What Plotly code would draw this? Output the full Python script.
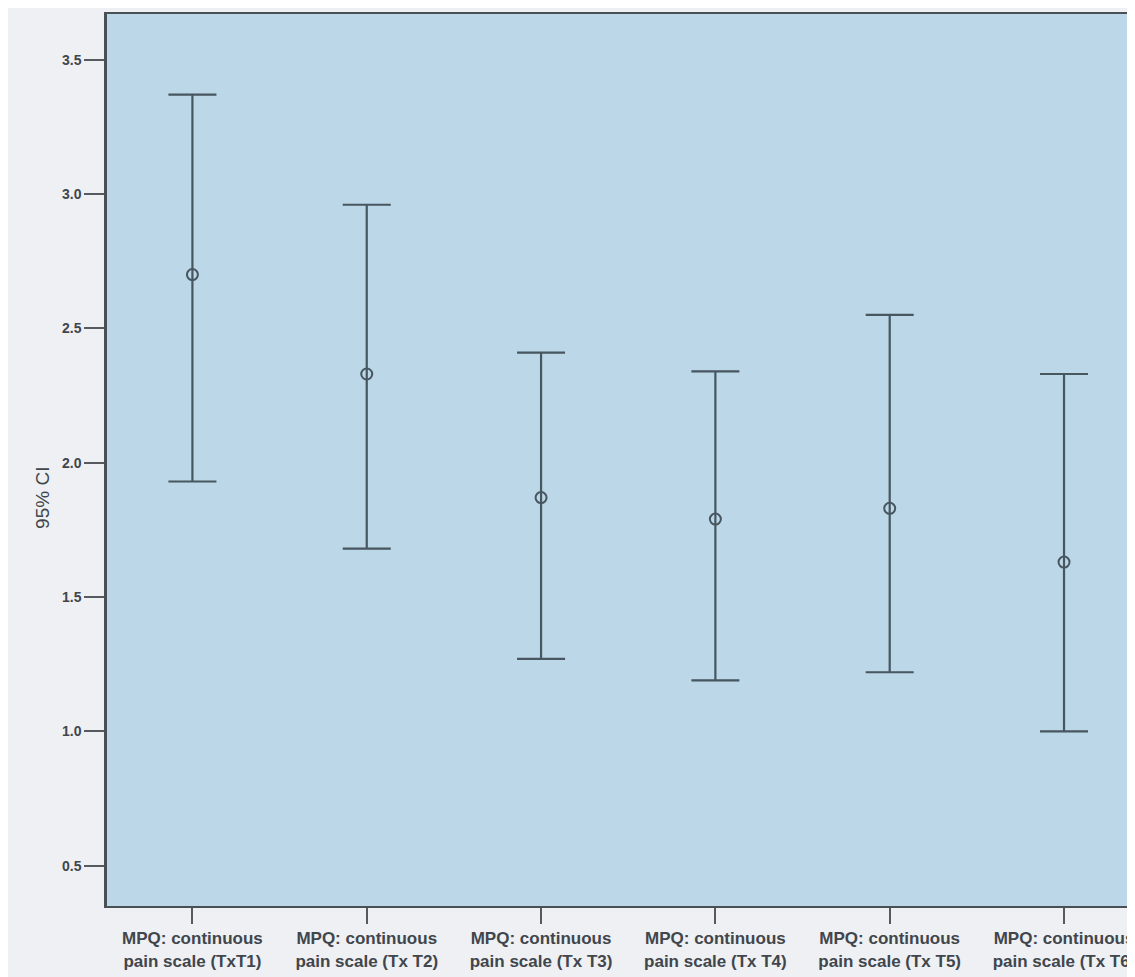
import plotly.graph_objects as go

categories = ["MPQ: continuous<br>pain scale (TxT1)",
              "MPQ: continuous<br>pain scale (Tx T2)",
              "MPQ: continuous<br>pain scale (Tx T3)",
              "MPQ: continuous<br>pain scale (Tx T4)",
              "MPQ: continuous<br>pain scale (Tx T5)",
              "MPQ: continuous<br>pain scale (Tx T6)"]
means = [2.70, 2.33, 1.87, 1.79, 1.83, 1.63]
upper = [3.37, 2.96, 2.41, 2.34, 2.55, 2.33]
lower = [1.93, 1.68, 1.27, 1.19, 1.22, 1.00]
y_ticks = [0.5, 1.0, 1.5, 2.0, 2.5, 3.0, 3.5]
y_ticklabels = ["0.5", "1.0", "1.5", "2.0", "2.5", "3.0", "3.5"]
y_title = "95% CI"

line_col = "#47565f"
text_col = "#41464c"
xs = list(range(len(categories)))

fig = go.Figure()
fig.add_trace(go.Scatter(
    x=xs, y=means, mode="markers",
    marker=dict(symbol="circle-open", size=11, color=line_col, line=dict(width=2, color=line_col)),
    error_y=dict(type="data", symmetric=False,
                 array=[u - m for u, m in zip(upper, means)],
                 arrayminus=[m - l for m, l in zip(means, lower)],
                 color=line_col, thickness=2.2, width=24),
    showlegend=False,
))

fig.update_layout(
    width=1127, height=969,
    margin=dict(l=99, r=0, t=6, b=71),
    paper_bgcolor="#eef0f3",
    plot_bgcolor="#bbd7e8",
    font=dict(family="Liberation Sans, Arial, sans-serif", color=text_col),
)
fig.add_annotation(
    text=y_title, xref="paper", yref="paper", x=-0.063, y=0.458,
    textangle=-90, showarrow=False, xanchor="center", yanchor="middle",
    font=dict(size=19, color=text_col),
)
fig.update_xaxes(
    range=[-0.49, 5.39],
    tickmode="array", tickvals=xs, ticktext=categories,
    ticks="outside", ticklen=16, tickwidth=2, tickcolor="#555a60",
    showline=True, linecolor="#4a4f55", linewidth=2, mirror=True,
    showgrid=False, zeroline=False, ticklabeloverflow="allow",
    tickfont=dict(size=17, color=text_col, weight="bold",
                  family="Liberation Sans Narrow, Liberation Sans, Arial, sans-serif"),
)
fig.update_yaxes(
    range=[0.35, 3.67],
    tickmode="array", tickvals=y_ticks, ticktext=y_ticklabels,
    ticks="outside", ticklen=20, tickwidth=2, tickcolor="#555a60",
    showline=True, linecolor="#4a4f55", linewidth=2.5,
    showgrid=False, zeroline=False,
    tickfont=dict(size=14, color=text_col, weight="bold",
                  family="Liberation Sans Narrow, Liberation Sans, Arial, sans-serif"),
)

fig.write_html("out.html")
